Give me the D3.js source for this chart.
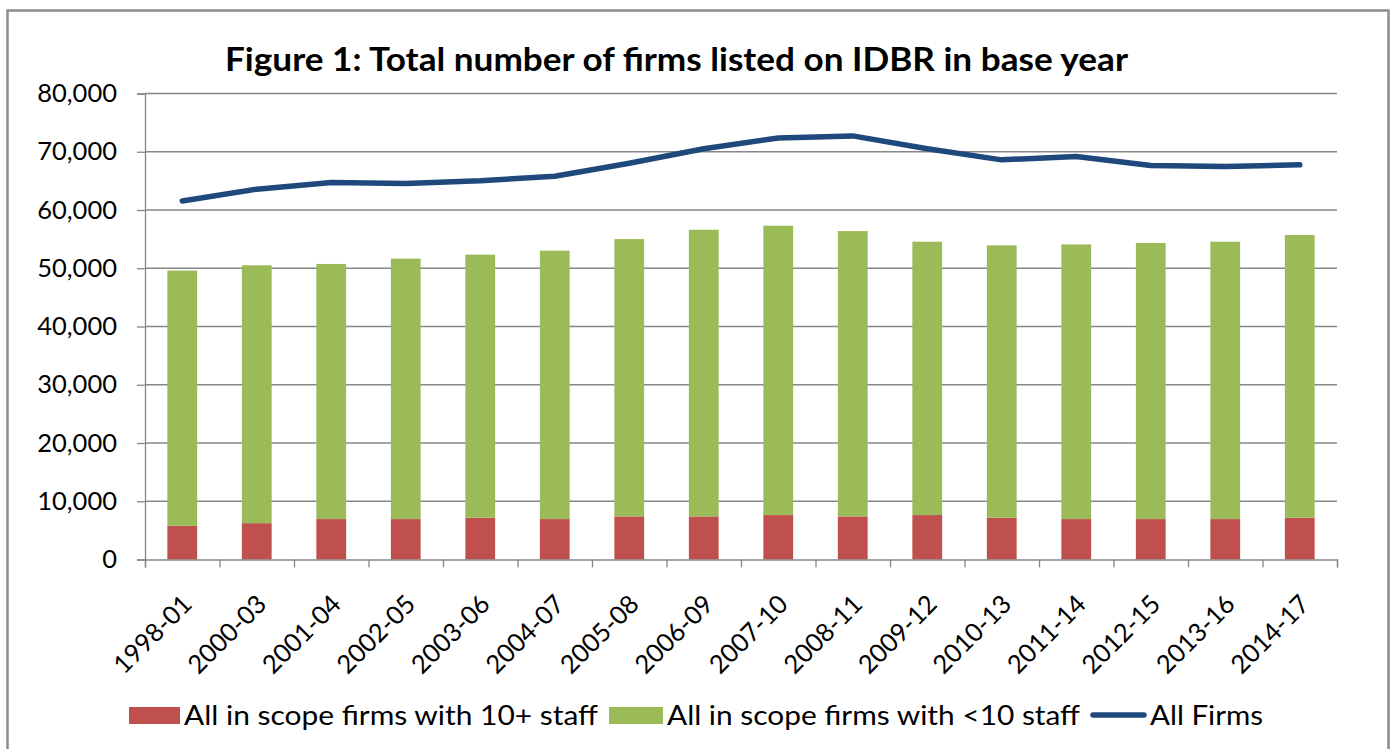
<!DOCTYPE html>
<html>
<head>
<meta charset="utf-8">
<script src="https://cdn.jsdelivr.net/npm/d3@7"></script>
<style>
  html, body { margin: 0; padding: 0; background: #fff; }
  svg { display: block; }
  text { font-family: Lato, "Open Sans", sans-serif; fill: #000; }
</style>
</head>
<body>
<svg id="chart" width="1394" height="749"></svg>
<script>
const categories = ["1998-01","2000-03","2001-04","2002-05","2003-06","2004-07","2005-08","2006-09","2007-10","2008-11","2009-12","2010-13","2011-14","2012-15","2013-16","2014-17"];
const staff10plus = [5780, 6240, 6940, 6940, 7170, 6940, 7400, 7400, 7630, 7400, 7630, 7170, 6940, 6940, 6940, 7170];
const staffUnder10 = [43820, 44270, 43800, 44710, 45170, 46080, 47610, 49210, 49670, 48980, 46930, 46760, 47160, 47390, 47620, 48530];
const allFirms = [61560, 63580, 64740, 64570, 65030, 65780, 68030, 70520, 72370, 72720, 70520, 68610, 69190, 67630, 67460, 67750];
const yTicks = [0, 10000, 20000, 30000, 40000, 50000, 60000, 70000, 80000];
const title = "Figure 1: Total number of firms listed on IDBR in base year";
const legendLabels = ["All in scope firms with 10+ staff", "All in scope firms with <10 staff", "All Firms"];
const colors = { red: "#C0504D", green: "#9BBB59", line: "#1F497D", grid: "#878787", border: "#8C8C8C" };

const svg = d3.select("#chart");
const L = 145, R = 1337, T = 93.5, B = 559.5;

// outer border
svg.append("rect").attr("x", 7.5).attr("y", 10.5).attr("width", 1381).attr("height", 760)
  .attr("fill", "#fff").attr("stroke", colors.border).attr("stroke-width", 2.5);

const x = d3.scaleBand().domain(categories).range([L, R]).paddingInner(0.6).paddingOuter(0.3);
const xb = d3.scaleLinear().domain([0, categories.length]).range([L, R]);
const y = d3.scaleLinear().domain([0, 80000]).range([B, T]);

// gridlines
svg.append("g").selectAll("line").data(yTicks.filter(d => d > 0)).join("line")
  .attr("x1", L).attr("x2", R).attr("y1", d => y(d)).attr("y2", d => y(d))
  .attr("stroke", colors.grid).attr("stroke-width", 1.3);

// y axis
const yAxis = svg.append("g").attr("transform", `translate(${L},0)`)
  .call(d3.axisLeft(y).tickValues(yTicks).tickSize(8).tickPadding(20).tickFormat(d3.format(",")));
yAxis.select(".domain").attr("stroke", colors.grid).attr("stroke-width", 1.3);
yAxis.selectAll(".tick line").attr("stroke", colors.grid).attr("stroke-width", 1.3);
yAxis.selectAll(".tick text").attr("font-size", 25.5).attr("fill", "#000").attr("font-family", "Lato");

// stacked bars
const stack = d3.stack().keys(["a", "b"])(categories.map((c, i) => ({ c, a: staff10plus[i], b: staffUnder10[i] })));
const barColors = [colors.red, colors.green];
svg.append("g").selectAll("g").data(stack).join("g").attr("fill", (d, i) => barColors[i])
  .selectAll("rect").data(d => d).join("rect")
  .attr("x", d => x(d.data.c)).attr("width", x.bandwidth())
  .attr("y", d => y(d[1])).attr("height", d => y(d[0]) - y(d[1]));

// x axis (ticks at band boundaries)
const xAxis = svg.append("g").attr("transform", `translate(0,${B})`)
  .call(d3.axisBottom(xb).tickValues(d3.range(categories.length + 1)).tickSize(8).tickFormat(""));
xAxis.select(".domain").attr("stroke", colors.grid).attr("stroke-width", 1.3);
xAxis.selectAll(".tick line").attr("stroke", colors.grid).attr("stroke-width", 1.3);

// x labels rotated
svg.append("g").selectAll("text").data(categories).join("text")
  .attr("transform", d => `translate(${x(d) + x.bandwidth() / 2 + 5},${B + 40}) rotate(-45)`)
  .attr("text-anchor", "end").attr("dy", "0.35em").attr("font-size", 25.5)
  .text(d => d);

// line
const line = d3.line().x((d, i) => x(categories[i]) + x.bandwidth() / 2).y(d => y(d));
svg.append("path").datum(allFirms).attr("d", line)
  .attr("fill", "none").attr("stroke", colors.line).attr("stroke-width", 5.5)
  .attr("stroke-linejoin", "round").attr("stroke-linecap", "round");

// title
svg.append("text").attr("x", 225).attr("y", 71).attr("font-size", 32).attr("font-weight", "bold")
  .attr("textLength", 903).attr("lengthAdjust", "spacingAndGlyphs").text(title);

// legend
const lg = svg.append("g");
const items = [
  { type: "rect", color: colors.red, sx: 129, sw: 51, tx: 184, tw: 414 },
  { type: "rect", color: colors.green, sx: 609, sw: 54, tx: 667, tw: 413 },
  { type: "line", color: colors.line, sx: 1091, sw: 55, tx: 1150, tw: 113 }
];
items.forEach((it, i) => {
  if (it.type === "rect") {
    lg.append("rect").attr("x", it.sx).attr("y", 707).attr("width", it.sw).attr("height", 17).attr("fill", it.color);
  } else {
    lg.append("line").attr("x1", it.sx + 2).attr("x2", it.sx + it.sw - 2).attr("y1", 715).attr("y2", 715)
      .attr("stroke", it.color).attr("stroke-width", 5.5).attr("stroke-linecap", "round");
  }
  lg.append("text").attr("x", it.tx).attr("y", 725).attr("font-size", 27)
    .attr("textLength", it.tw).attr("lengthAdjust", "spacingAndGlyphs").text(legendLabels[i]);
});
</script>
</body>
</html>
